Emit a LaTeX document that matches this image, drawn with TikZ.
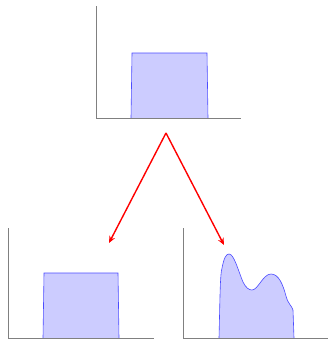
\documentclass[tikz,border=0pt]{standalone}
\usetikzlibrary{arrows.meta}
\begin{document}
\begin{tikzpicture}[x=1pt,y=-1pt,
  axis/.style={draw=gray, line width=0.8pt},
  distr/.style={draw=blue!70, fill=blue!20, line width=0.6pt},
  flow/.style={draw=red, line width=1.4pt, -{Stealth[length=7pt,width=6pt]}}]
\useasboundingbox (0,0) rectangle (330,340);
% top plot
\fill[blue!20] (131,118) -- (132,53) -- (207,53) -- (208,118) -- cycle;
\draw[distr, fill=none] (131,118) -- (132,53) -- (207,53) -- (208,118);
\draw[axis] (96,6) -- (96,118) -- (241,118);
% arrows
\coordinate (apex) at (166,133);
\coordinate (lt) at (109,243);
\coordinate (rt) at (224,245);
\draw[flow] (apex) -- (lt);
\draw[flow] (apex) -- (rt);
% bottom left
\fill[blue!20] (43,338) -- (44,273) -- (118,273) -- (119,338) -- cycle;
\draw[distr, fill=none] (43,338) -- (44,273) -- (118,273) -- (119,338);
\draw[axis] (8,228) -- (8,338) -- (154,338);
% bottom right
\path[distr] (219,338) .. controls (220,300) and (220,275) .. (222,268)
  .. controls (224,258) and (226,254) .. (229,254)
  .. controls (234,254) and (238,270) .. (243,282)
  .. controls (246,288) and (249,290) .. (252,290)
  .. controls (258,290) and (263,274) .. (271,274)
  .. controls (279,274) and (283,285) .. (286,296)
  .. controls (288,304) and (292,306) .. (293,310)
  -- (294,338);
\draw[axis] (183,228) -- (183,338) -- (328,338);
\end{tikzpicture}
\end{document}
